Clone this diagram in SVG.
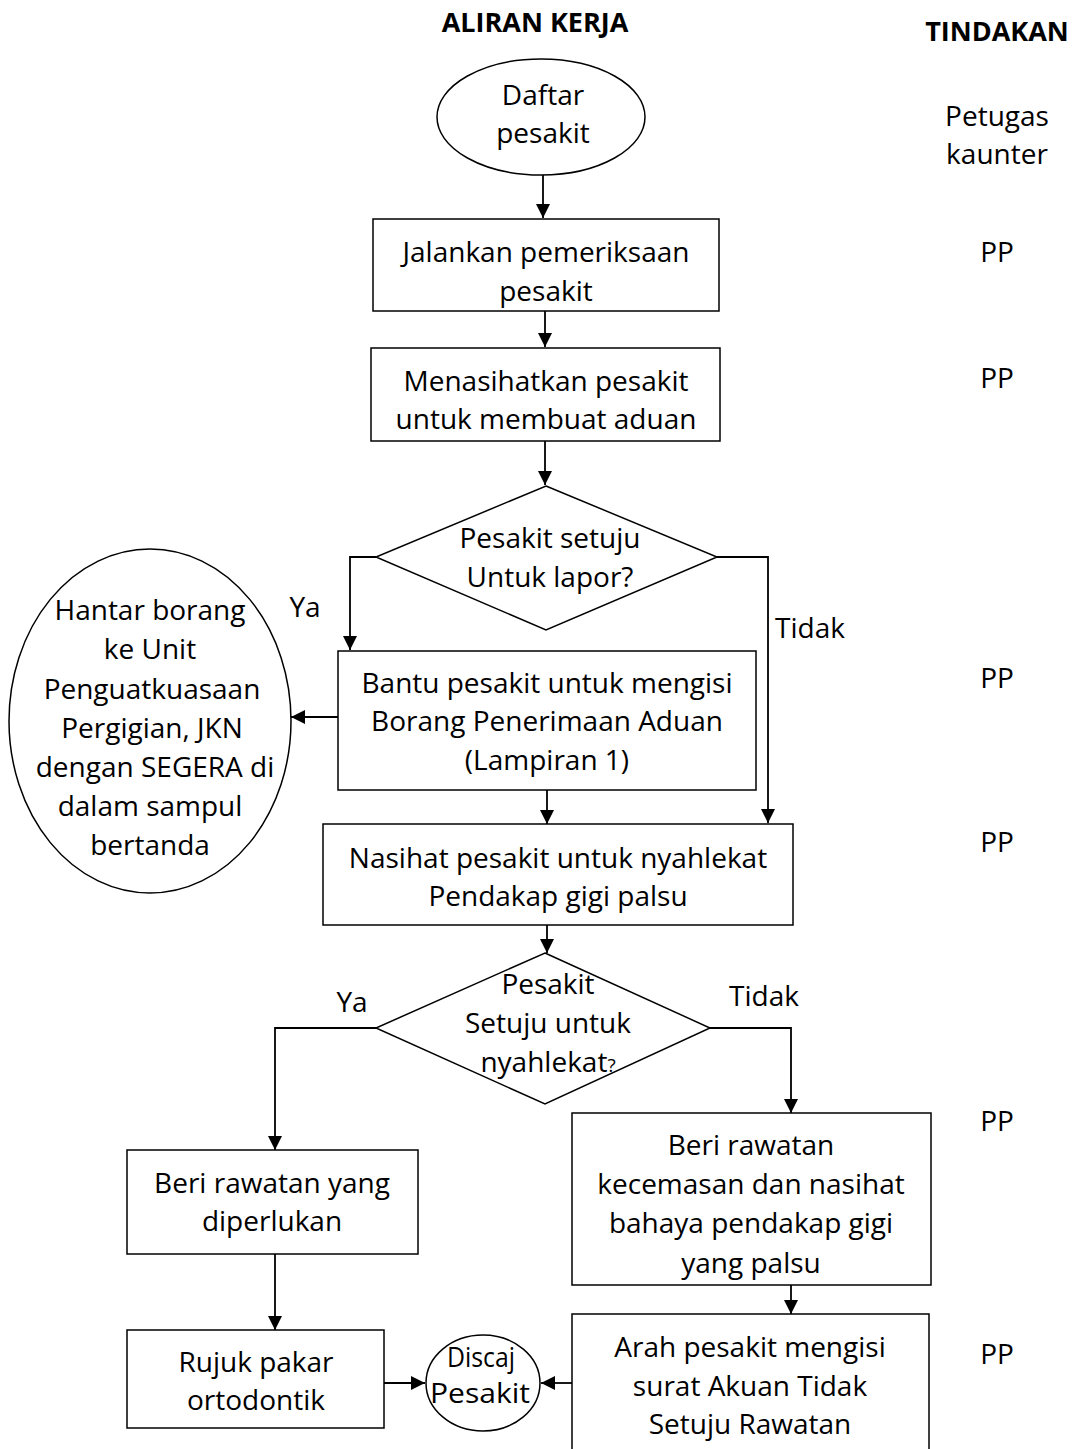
<svg xmlns="http://www.w3.org/2000/svg" width="1074" height="1449" viewBox="0 0 1074 1449">
<style>
.t{font-family:"Open Sans",Lato,sans-serif;font-size:28px;fill:#000;text-anchor:middle}
.h{font-family:"Open Sans",Lato,sans-serif;font-size:27px;font-weight:bold;fill:#000;text-anchor:middle}
.s{fill:#fff;stroke:#000;stroke-width:1.5}
.c{fill:none;stroke:#000;stroke-width:1.8}
</style>
<defs>
<marker id="ah" markerUnits="userSpaceOnUse" markerWidth="14" markerHeight="14" refX="14" refY="7" orient="auto">
<path d="M0,0 L14,7 L0,14 Z" fill="#000"/>
</marker>
</defs>
<rect width="1074" height="1449" fill="#fff"/>
<g id="headers">
<text class="h" x="535" y="32">ALIRAN KERJA</text>
<text class="h" x="997" y="41">TINDAKAN</text>
</g>
<g id="connectors">
<line class="c" x1="543" y1="175" x2="543" y2="218" marker-end="url(#ah)"/>
<line class="c" x1="545" y1="311" x2="545" y2="347" marker-end="url(#ah)"/>
<line class="c" x1="545" y1="441" x2="545" y2="485" marker-end="url(#ah)"/>
<polyline class="c" points="376,557 350,557 350,650" marker-end="url(#ah)"/>
<polyline class="c" points="717,557 768,557 768,823" marker-end="url(#ah)"/>
<line class="c" x1="338" y1="717" x2="291" y2="717" marker-end="url(#ah)"/>
<line class="c" x1="547" y1="790" x2="547" y2="824" marker-end="url(#ah)"/>
<line class="c" x1="547" y1="925" x2="547" y2="953" marker-end="url(#ah)"/>
<polyline class="c" points="376,1028 275,1028 275,1150" marker-end="url(#ah)"/>
<polyline class="c" points="710,1028 791,1028 791,1113" marker-end="url(#ah)"/>
<line class="c" x1="275" y1="1254" x2="275" y2="1330" marker-end="url(#ah)"/>
<line class="c" x1="791" y1="1285" x2="791" y2="1314" marker-end="url(#ah)"/>
<line class="c" x1="384" y1="1383" x2="425" y2="1383" marker-end="url(#ah)"/>
<line class="c" x1="572" y1="1383" x2="541" y2="1383" marker-end="url(#ah)"/>
</g>
<g id="n-daftar">
<ellipse class="s" cx="541" cy="117" rx="104" ry="58"/>
<text class="t" x="543" y="105">Daftar</text>
<text class="t" x="543" y="143">pesakit</text>
</g>
<g id="n-jalankan">
<rect class="s" x="373" y="219" width="346" height="92"/>
<text class="t" x="546" y="262">Jalankan pemeriksaan</text>
<text class="t" x="546" y="301">pesakit</text>
</g>
<g id="n-menasihatkan">
<rect class="s" x="371" y="348" width="349" height="93"/>
<text class="t" x="546" y="391">Menasihatkan pesakit</text>
<text class="t" x="546" y="429">untuk membuat aduan</text>
</g>
<g id="n-lapor">
<polygon class="s" points="546,486 717,557 546,630 376,557"/>
<text class="t" x="550" y="548">Pesakit setuju</text>
<text class="t" x="550" y="587">Untuk lapor?</text>
</g>
<g id="n-bantu">
<rect class="s" x="338" y="651" width="418" height="139"/>
<text class="t" x="547" y="693">Bantu pesakit untuk mengisi</text>
<text class="t" x="547" y="731">Borang Penerimaan Aduan</text>
<text class="t" x="547" y="770">(Lampiran 1)</text>
</g>
<g id="n-hantar">
<ellipse class="s" cx="150" cy="721" rx="141" ry="172"/>
<text class="t" x="150" y="620">Hantar borang</text>
<text class="t" x="150" y="659">ke Unit</text>
<text class="t" x="152" y="699">Penguatkuasaan</text>
<text class="t" x="152" y="738">Pergigian, JKN</text>
<text class="t" x="155" y="777">dengan SEGERA di</text>
<text class="t" x="150" y="816">dalam sampul</text>
<text class="t" x="150" y="855">bertanda</text>
</g>
<g id="n-nasihat">
<rect class="s" x="323" y="824" width="470" height="101"/>
<text class="t" x="558" y="868">Nasihat pesakit untuk nyahlekat</text>
<text class="t" x="558" y="906">Pendakap gigi palsu</text>
</g>
<g id="n-nyahlekat">
<polygon class="s" points="545,953 710,1028 545,1104 376,1028"/>
<text class="t" x="548" y="994">Pesakit</text>
<text class="t" x="548" y="1033">Setuju untuk</text>
<text class="t" x="548" y="1072">nyahlekat<tspan font-size="19">?</tspan></text>
</g>
<g id="labels">
<text class="t" x="305" y="617">Ya</text>
<text class="t" x="810" y="638">Tidak</text>
<text class="t" x="352" y="1012">Ya</text>
<text class="t" x="764" y="1006">Tidak</text>
</g>
<g id="n-beri-yang">
<rect class="s" x="127" y="1150" width="291" height="104"/>
<text class="t" x="272" y="1193">Beri rawatan yang</text>
<text class="t" x="272" y="1231">diperlukan</text>
</g>
<g id="n-beri-kecemasan">
<rect class="s" x="572" y="1113" width="359" height="172"/>
<text class="t" x="751" y="1155">Beri rawatan</text>
<text class="t" x="751" y="1194">kecemasan dan nasihat</text>
<text class="t" x="751" y="1233">bahaya pendakap gigi</text>
<text class="t" x="751" y="1273">yang palsu</text>
</g>
<g id="n-rujuk">
<rect class="s" x="127" y="1330" width="257" height="98"/>
<text class="t" x="256" y="1372">Rujuk pakar</text>
<text class="t" x="256" y="1410">ortodontik</text>
</g>
<g id="n-discaj">
<ellipse class="s" cx="483" cy="1383" rx="57" ry="48"/>
<text class="t" x="481" y="1367" textLength="68" lengthAdjust="spacingAndGlyphs">Discaj</text>
<text class="t" x="480" y="1403" textLength="100" lengthAdjust="spacingAndGlyphs">Pesakit</text>
</g>
<g id="n-arah">
<rect class="s" x="572" y="1314" width="357" height="140"/>
<text class="t" x="750" y="1357">Arah pesakit mengisi</text>
<text class="t" x="750" y="1396">surat Akuan Tidak</text>
<text class="t" x="750" y="1434">Setuju Rawatan</text>
</g>
<g id="tindakan">
<text class="t" x="997" y="126">Petugas</text>
<text class="t" x="997" y="164">kaunter</text>
<text class="t" x="997" y="262">PP</text>
<text class="t" x="997" y="388">PP</text>
<text class="t" x="997" y="688">PP</text>
<text class="t" x="997" y="852">PP</text>
<text class="t" x="997" y="1131">PP</text>
<text class="t" x="997" y="1364">PP</text>
</g>
</svg>
